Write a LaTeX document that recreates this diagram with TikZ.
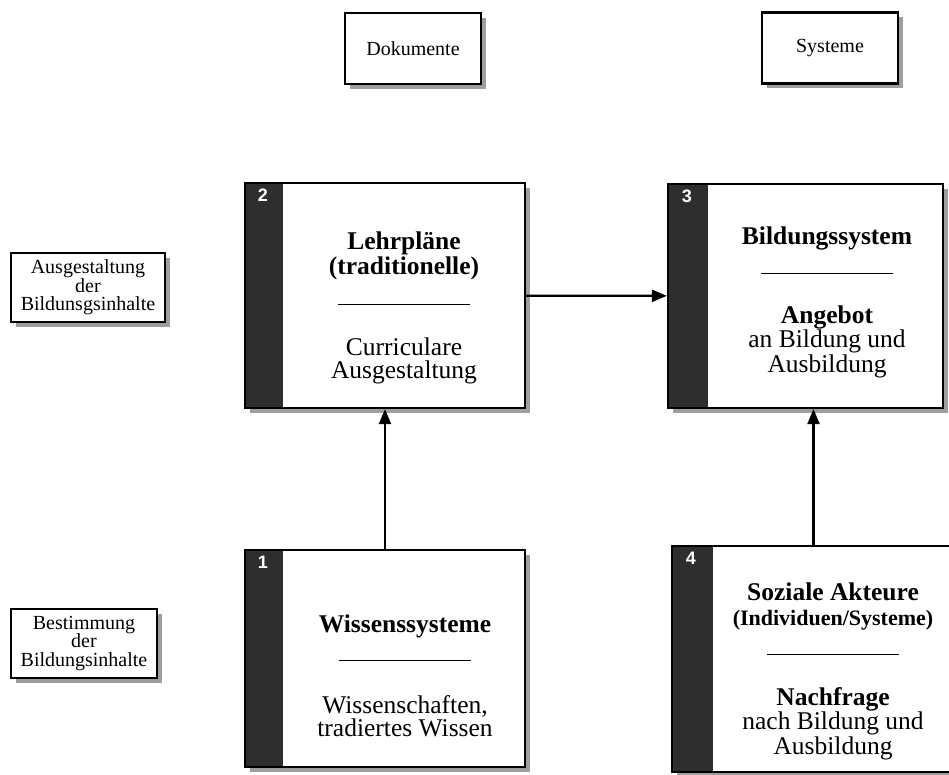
\documentclass[tikz,border=0pt]{standalone}
\usepackage{fontspec}
\setmainfont{Liberation Serif}
\setsansfont{Liberation Sans}
\usetikzlibrary{arrows.meta, shadows}
\newcommand{\strich}{\rule{132pt}{1.3pt}}
\tikzset{
  feld/.style={draw, line width=2.2pt, fill=white, inner sep=0pt,
    drop shadow={shadow xshift=5pt, shadow yshift=-5pt, fill=black!38, opacity=1},
    path picture={\fill[black!82] (path picture bounding box.north west)
      rectangle ([xshift=#1]path picture bounding box.south west);}},
  feld/.default=38pt,
  etikett/.style={draw, line width=2.2pt, fill=white, inner sep=0pt, align=center,
    font=\fontsize{20}{18.5}\selectfont,
    drop shadow={shadow xshift=5pt, shadow yshift=-5pt, fill=black!38, opacity=1}},
  nummer/.style={text=white, font=\sffamily\bfseries\fontsize{18}{18}\selectfont},
  inhalt/.style={align=center, anchor=base, font=\fontsize{25.5}{23}\selectfont},
  pfeil/.style={line width=2.2pt, -{Triangle[length=15pt, width=12pt]}}
}

\begin{document}
\begin{tikzpicture}[x=1pt, y=-1pt]
\useasboundingbox (0,0) rectangle (949,775);
% Spaltenkoepfe
\node[etikett, minimum width=136pt, minimum height=71pt](dok) at (413,48.5) {Dokumente};
\node[etikett, minimum width=136pt, minimum height=71pt](sys) at (830,48) {Systeme};
% Zeilenkoepfe
\node[etikett, minimum width=154pt, minimum height=69pt](ausg) at (88,287.5) {Ausgestaltung\\der\\Bildunsgsinhalte};
\node[etikett, minimum width=146pt, minimum height=69pt](best) at (84,643.5) {Bestimmung\\der\\Bildungsinhalte};
%
\node[feld, minimum width=280pt, minimum height=225pt](b2) at (385,295.5) {};
\node[feld=40pt, minimum width=275pt, minimum height=224pt](b3) at (805.5,296) {};
\node[feld, minimum width=280pt, minimum height=217pt](b1) at (385,658.5) {};
\node[feld=41pt, minimum width=283pt, minimum height=226pt](b4) at (813.5,659) {};
%
\node[nummer](n1) at ([xshift=19pt, yshift=-13pt]b1.north west) {1};
\node[nummer](n2) at ([xshift=19pt, yshift=-13pt]b2.north west) {2};
\node[nummer](n3) at ([xshift=20pt, yshift=-13pt]b3.north west) {3};
\node[nummer](n4) at ([xshift=20pt, yshift=-13pt]b4.north west) {4};
% Texte (Anker: Grundlinie der letzten Zeile)
\node[inhalt](t2) at (404,378) {\textbf{Lehrpläne}\\\textbf{(traditionelle)}\\[8pt]\strich\\[27pt]Curriculare\\Ausgestaltung};
\node[inhalt](t3) at (827,372) {\textbf{Bildungssystem}\\[7pt]\strich\\[26pt]\textbf{Angebot}\\an Bildung und\\Ausbildung};
\node[inhalt](t1) at (405,736) {\textbf{Wissenssysteme}\\[6pt]\strich\\[29pt]Wissenschaften,\\tradiertes Wissen};
\node[inhalt](t4) at (833,754) {\textbf{Soziale Akteure}\\[2pt]{\fontsize{22}{23}\selectfont\textbf{(Individuen/Systeme)}}\\[7pt]\strich\\[27pt]\textbf{Nachfrage}\\nach Bildung und\\Ausbildung};
%
\draw[pfeil](b2) -- (b3);
\draw[pfeil](b1) -- (b2);
\draw[pfeil](b4.north) -- (b4.north |- b3.south);
\end{tikzpicture}
\end{document}
